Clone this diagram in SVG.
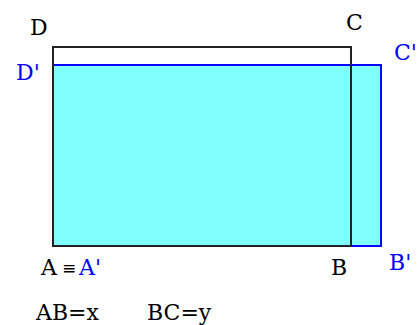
<svg xmlns="http://www.w3.org/2000/svg" width="417" height="325" viewBox="0 0 417 325">
<style>
text{font-family:"DejaVu Serif","Liberation Serif",serif;font-size:22px}
.k{fill:#000}
.b{fill:#0000ff}
</style>
<rect width="417" height="325" fill="#fff"/>
<g id="rect-prime">
<rect x="53" y="65" width="328" height="181" fill="#80ffff" stroke="#0000ff" stroke-width="2"/>
</g>
<g id="rect-orig">
<rect x="53" y="47" width="298" height="199" fill="none" stroke="#222" stroke-width="2"/>
</g>
<g id="labels">
<text class="k" x="30" y="35">D</text>
<text class="k" x="346" y="30">C</text>
<text class="b" x="16" y="80">D'</text>
<text class="b" x="394" y="60">C'</text>
<text class="k" x="41" y="275">A</text>
<text class="k" x="62" y="274" style="font-family:'DejaVu Sans',sans-serif;font-size:17px">≡</text>
<text class="b" x="79" y="275">A'</text>
<text class="k" x="331" y="275">B</text>
<text class="b" x="389" y="270">B'</text>
<text class="k" x="36" y="320">AB=x</text>
<text class="k" x="147" y="320">BC=y</text>
</g>
</svg>
